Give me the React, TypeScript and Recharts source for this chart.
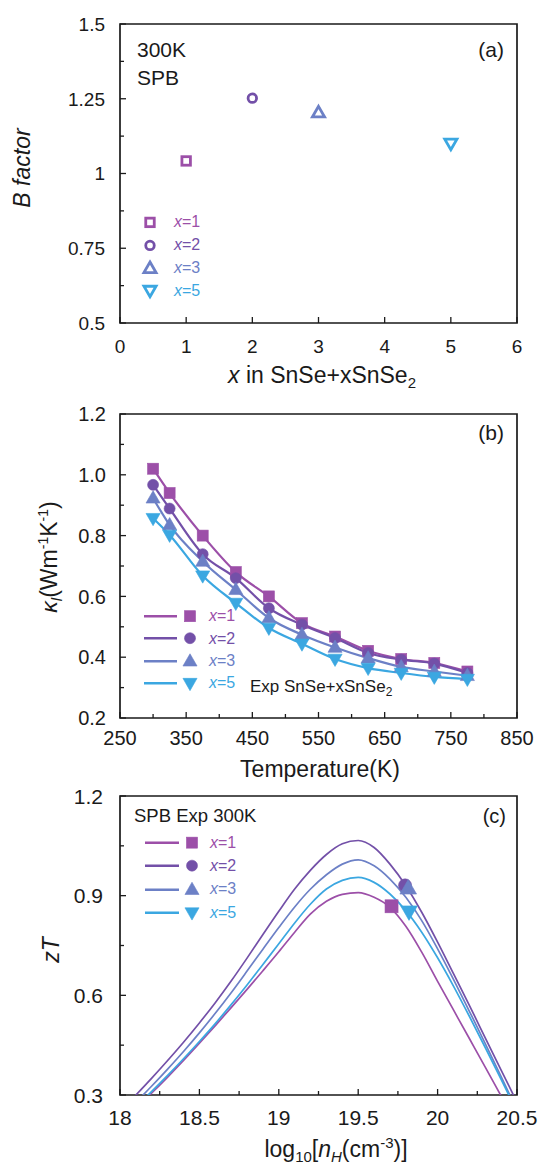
import React from 'react'
import {
  ScatterChart, ComposedChart, Scatter, Line, XAxis, YAxis, ReferenceArea, Label, Legend,
} from 'recharts'

const FONT = '"Liberation Sans", Arial, sans-serif'
const INK = '#1a1a1a'
const W = 544

const SERIES = ['x=1', 'x=2', 'x=3', 'x=5']
const COLORS = ['#9C4FA8', '#7350A8', '#6C80C6', '#3BA7E1']
const SHAPES = ['square', 'circle', 'triangle', 'down']

// (a) B factor, 300 K
const bX = [1, 2, 3, 5]
const bFactor = [1.042, 1.252, 1.203, 1.101]
const aXTicks = [0, 1, 2, 3, 4, 5, 6]
const aYTicks = [0.5, 0.625, 0.75, 0.875, 1, 1.125, 1.25, 1.375, 1.5]
const aYLabels = [0.5, 0.75, 1, 1.25, 1.5]

// (b) lattice thermal conductivity vs T
const temps = [300, 325, 375, 425, 475, 525, 575, 625, 675, 725, 775]
const kappa1 = [1.02, 0.94, 0.8, 0.68, 0.6, 0.512, 0.468, 0.421, 0.394, 0.381, 0.353]
const kappa2 = [0.967, 0.889, 0.739, 0.66, 0.561, 0.507, 0.463, 0.414, 0.392, 0.379, 0.348]
const kappa3 = [0.923, 0.835, 0.715, 0.622, 0.529, 0.474, 0.432, 0.397, 0.368, 0.353, 0.339]
const kappa5 = [0.857, 0.802, 0.668, 0.578, 0.496, 0.444, 0.394, 0.364, 0.348, 0.335, 0.328]
const bXTicks = [250, 300, 350, 400, 450, 500, 550, 600, 650, 700, 750, 800, 850]
const bXLabels = [250, 350, 450, 550, 650, 750, 850]
const bYTicks = [0.2, 0.3, 0.4, 0.5, 0.6, 0.7, 0.8, 0.9, 1.0, 1.1, 1.2]
const bYLabels = [0.2, 0.4, 0.6, 0.8, 1.0, 1.2]

// (c) SPB zT vs log10 nH
const logN = [18.0, 18.1, 18.2, 18.3, 18.4, 18.5, 18.6, 18.7, 18.8, 18.9, 19.0, 19.1, 19.2,
  19.3, 19.4, 19.5, 19.6, 19.7, 19.8, 19.9, 20.0, 20.1, 20.2, 20.3, 20.4, 20.5]
const zt1 = [0.215, 0.26, 0.306, 0.354, 0.404, 0.456, 0.509, 0.563, 0.618, 0.674, 0.731, 0.79, 0.845,
  0.883, 0.904, 0.909, 0.895, 0.865, 0.808, 0.73, 0.642, 0.556, 0.47, 0.384, 0.297, 0.21]
const zt2 = [0.25, 0.3, 0.351, 0.404, 0.459, 0.517, 0.578, 0.643, 0.712, 0.783, 0.853, 0.92, 0.977,
  1.024, 1.056, 1.066, 1.045, 0.995, 0.93, 0.85, 0.76, 0.665, 0.57, 0.472, 0.375, 0.278]
const zt3 = [0.23, 0.278, 0.327, 0.378, 0.431, 0.487, 0.546, 0.608, 0.673, 0.739, 0.804, 0.866, 0.92,
  0.963, 0.995, 1.008, 0.99, 0.95, 0.895, 0.825, 0.74, 0.648, 0.552, 0.455, 0.355, 0.255]
const zt5 = [0.22, 0.265, 0.311, 0.359, 0.409, 0.461, 0.515, 0.572, 0.631, 0.693, 0.755, 0.818, 0.875,
  0.92, 0.946, 0.955, 0.94, 0.905, 0.855, 0.79, 0.713, 0.628, 0.537, 0.443, 0.347, 0.25]
const expLogN = [19.71, 19.795, 19.815, 19.82]
const expZT = [0.868, 0.931, 0.922, 0.852]
const cXTicks = [18, 18.25, 18.5, 18.75, 19, 19.25, 19.5, 19.75, 20, 20.25, 20.5]
const cXLabels = [18, 18.5, 19, 19.5, 20, 20.5]
const cYTicks = [0.3, 0.45, 0.6, 0.75, 0.9, 1.05, 1.2]
const cYLabels = [0.3, 0.6, 0.9, 1.2]

const bRows = temps.map((t, i) => ({ t, k1: kappa1[i], k2: kappa2[i], k3: kappa3[i], k5: kappa5[i] }))
const cRows = logN.map((v, i) => ({ v, z1: zt1[i], z2: zt2[i], z3: zt3[i], z5: zt5[i] }))
const KEYS_B = ['k1', 'k2', 'k3', 'k5']
const KEYS_C = ['z1', 'z2', 'z3', 'z5']

// plot boxes, chart-relative
const PA = { top: 24, bottom: 323, h: 390 }
const PB = { top: 29, bottom: 333, h: 405 }
const PC = { top: 26, bottom: 325, h: 398 }
const LEFT = 120, RIGHT = 517
const margins = (p: any) => ({ top: p.top, right: W - RIGHT, left: LEFT - 60, bottom: p.h - p.bottom - 30 })

// hollow marker sizes for panel (a)
const HOLLOW = [8.5, 8.5, 9.5, 9.5]

function Marker({ cx, cy, shape, color, size, hollow }: any) {
  if (cx == null || cy == null) return null
  const h = size / 2
  const paint = hollow
    ? { fill: 'none', stroke: color, strokeWidth: 2.8 }
    : { fill: color, stroke: color, strokeWidth: 0.6 }
  if (shape === 'square') return <rect x={cx - h} y={cy - h} width={size} height={size} {...paint} />
  if (shape === 'circle') return <circle cx={cx} cy={cy} r={h} {...paint} />
  const t = h * 1.35
  const s = shape === 'triangle' ? 1 : -1
  const pts = [[cx, cy - s * t], [cx + t * 0.95, cy + s * t * 0.65], [cx - t * 0.95, cy + s * t * 0.65]]
  return <polygon points={pts.map(p => p.join(',')).join(' ')} {...paint} />
}

function xTick(labels: number[], fontSize: number, dy: number, fmt = (v: number) => String(v)) {
  return (p: any) => {
    const v = p.payload.value
    const major = labels.includes(v)
    return (
      <g>
        <line x1={p.x} x2={p.x} y1={p.y} y2={p.y - (major ? 6 : 4)} stroke={INK} strokeWidth={1.3} />
        {major && (
          <text x={p.x} y={p.y + dy} textAnchor="middle" fontSize={fontSize} fontFamily={FONT} fill={INK}>{fmt(v)}</text>
        )}
      </g>
    )
  }
}

function yTick(labels: number[], fontSize: number, gap: number, fmt = (v: number) => String(v)) {
  return (p: any) => {
    const v = p.payload.value
    const major = labels.includes(v)
    return (
      <g>
        <line x1={p.x} x2={p.x + (major ? 6 : 4)} y1={p.y} y2={p.y} stroke={INK} strokeWidth={1.3} />
        {major && (
          <text x={p.x - gap} y={p.y} dy="0.36em" textAnchor="end" fontSize={fontSize} fontFamily={FONT} fill={INK}>{fmt(v)}</text>
        )}
      </g>
    )
  }
}

function KeyRows({ lineLen, hollow, sizes, rowH, gap }: any) {
  return (
    <div style={{ fontFamily: FONT, fontSize: 16, lineHeight: 1 }}>
      {SERIES.map((s, i) => (
        <div key={s} style={{ display: 'flex', alignItems: 'center', height: rowH }}>
          <svg width={lineLen + (lineLen ? 24 : 20)} height={rowH} style={{ display: 'block' }}>
            {lineLen > 0 && <line x1={0} x2={lineLen} y1={rowH / 2} y2={rowH / 2} stroke={COLORS[i]} strokeWidth={2.5} />}
            <Marker cx={lineLen ? lineLen + 13 : 10} cy={rowH / 2} shape={SHAPES[i]} color={COLORS[i]} size={sizes[i]} hollow={hollow} />
          </svg>
          <span style={{ color: COLORS[i], marginLeft: gap }}><i>x</i>{s.slice(1)}</span>
        </div>
      ))}
    </div>
  )
}

const txt = { fontFamily: FONT, fill: INK }

function AnnotA() {
  return (
    <g {...txt}>
      <text x={137} y={57} fontSize={21}>300K</text>
      <text x={137} y={85} fontSize={21}>SPB</text>
      <text x={504} y={57} fontSize={21} textAnchor="end">(a)</text>
      <text x={322} y={383} fontSize={23} textAnchor="middle">
        <tspan fontStyle="italic">x</tspan> in SnSe+xSnSe<tspan fontSize={15} dy={5}>2</tspan>
      </text>
      <text transform="translate(30,168) rotate(-90)" fontSize={23} textAnchor="middle" fontStyle="italic">B factor</text>
    </g>
  )
}

function AnnotB() {
  return (
    <g {...txt}>
      <text x={504} y={55} fontSize={21} textAnchor="end">(b)</text>
      <text x={250} y={307} fontSize={17}>Exp SnSe+xSnSe<tspan fontSize={12} dy={4}>2</tspan></text>
      <text x={320} y={392} fontSize={23} textAnchor="middle">Temperature(K)</text>
      <text transform="translate(57,172) rotate(-90)" fontSize={23} textAnchor="middle">
        <tspan fontStyle="italic">κ</tspan><tspan fontStyle="italic" fontSize={15} dy={5}>l</tspan><tspan dy={-5}>(Wm</tspan><tspan fontSize={14} dy={-9}>-1</tspan><tspan dy={9}>K</tspan><tspan fontSize={14} dy={-9}>-1</tspan><tspan dy={9}>)</tspan>
      </text>
    </g>
  )
}

function AnnotC() {
  return (
    <g {...txt}>
      <text x={134} y={52} fontSize={18.5}>SPB Exp 300K</text>
      <text x={506} y={53} fontSize={20} textAnchor="end">(c)</text>
      <text x={336} y={387} fontSize={23} textAnchor="middle">
        log<tspan fontSize={15} dy={5}>10</tspan><tspan dy={-5}>[</tspan><tspan fontStyle="italic">n</tspan><tspan fontStyle="italic" fontSize={15} dy={5}>H</tspan><tspan dy={-5}>(cm</tspan><tspan fontSize={15} dy={-9}>-3</tspan><tspan dy={9}>)]</tspan>
      </text>
      <text transform="translate(59,180) rotate(-90)" fontSize={23} textAnchor="middle" fontStyle="italic">zT</text>
    </g>
  )
}

const axisCommon = { tickLine: false, axisLine: false, tickSize: 0, tickMargin: 0, interval: 0 as const }

function PanelA() {
  return (
    <ScatterChart width={W} height={PA.h} margin={margins(PA)}>
      <XAxis type="number" dataKey="x" domain={[0, 6]} ticks={aXTicks} tick={xTick(aXTicks, 19, 30)} {...axisCommon} />
      <YAxis type="number" domain={[0.5, 1.5]} ticks={aYTicks} tick={yTick(aYLabels, 19, 15)} {...axisCommon} />
      {SERIES.map((s, i) => (
        <Scatter key={s} name={s} data={[{ x: bX[i], b: bFactor[i] }]} dataKey="b" isAnimationActive={false}
          shape={(p: any) => <Marker cx={p.cx} cy={p.cy} shape={SHAPES[i]} color={COLORS[i]} size={HOLLOW[i]} hollow />} />
      ))}
      <ReferenceArea x1={0} x2={6} y1={0.5} y2={1.5} fill="none" stroke={INK} strokeWidth={1.7} ifOverflow="visible">
        <Label content={() => <AnnotA />} />
      </ReferenceArea>
      <Legend layout="vertical" align="center" verticalAlign="middle"
        wrapperStyle={{ left: 140, top: 211, width: 'auto', height: 'auto' }}
        content={() => <KeyRows lineLen={0} hollow sizes={HOLLOW} rowH={22.8} gap={14} />} />
    </ScatterChart>
  )
}

function PanelB() {
  return (
    <ComposedChart width={W} height={PB.h} margin={margins(PB)} data={bRows}>
      <XAxis type="number" dataKey="t" domain={[250, 850]} ticks={bXTicks} tick={xTick(bXLabels, 20, 27)} {...axisCommon} />
      <YAxis type="number" domain={[0.2, 1.2]} ticks={bYTicks} tick={yTick(bYLabels, 20, 14, v => v.toFixed(1))} {...axisCommon} />
      {SERIES.map((s, i) => (
        <Line key={s} name={s} dataKey={KEYS_B[i]} type="monotone" stroke={COLORS[i]} strokeWidth={2.2} isAnimationActive={false}
          dot={(p: any) => <Marker key={p.index} cx={p.cx} cy={p.cy} shape={SHAPES[i]} color={COLORS[i]} size={11} />}
          activeDot={false} />
      ))}
      <ReferenceArea x1={250} x2={850} y1={0.2} y2={1.2} fill="none" stroke={INK} strokeWidth={1.7} ifOverflow="visible">
        <Label content={() => <AnnotB />} />
      </ReferenceArea>
      <Legend layout="vertical" align="center" verticalAlign="middle"
        wrapperStyle={{ left: 144, top: 220, width: 'auto', height: 'auto' }}
        content={() => <KeyRows lineLen={33} sizes={[11, 11, 11, 11]} rowH={22.4} gap={8} />} />
    </ComposedChart>
  )
}

function PanelC() {
  return (
    <ComposedChart width={W} height={PC.h} margin={margins(PC)} data={cRows}>
      <XAxis type="number" dataKey="v" domain={[18, 20.5]} ticks={cXTicks} allowDataOverflow tick={xTick(cXLabels, 21, 30)} {...axisCommon} />
      <YAxis type="number" domain={[0.3, 1.2]} ticks={cYTicks} allowDataOverflow tick={yTick(cYLabels, 21, 17, v => v.toFixed(1))} {...axisCommon} />
      {SERIES.map((s, i) => (
        <Line key={s} name={s} dataKey={KEYS_C[i]} type="monotone" stroke={COLORS[i]} strokeWidth={1.7}
          dot={false} activeDot={false} isAnimationActive={false} />
      ))}
      {SERIES.map((s, i) => (
        <Scatter key={'e' + s} data={[{ v: expLogN[i], zt: expZT[i] }]} dataKey="zt" isAnimationActive={false}
          shape={(p: any) => <Marker cx={p.cx} cy={p.cy} shape={SHAPES[i]} color={COLORS[i]} size={13} />} />
      ))}
      <ReferenceArea x1={18} x2={20.5} y1={0.3} y2={1.2} fill="none" stroke={INK} strokeWidth={1.7} ifOverflow="visible">
        <Label content={() => <AnnotC />} />
      </ReferenceArea>
      <Legend layout="vertical" align="center" verticalAlign="middle"
        wrapperStyle={{ left: 145, top: 61, width: 'auto', height: 'auto' }}
        content={() => <KeyRows lineLen={34} sizes={[11, 11, 11, 11]} rowH={23.3} gap={7} />} />
    </ComposedChart>
  )
}

export default function App() {
  return (
    <div style={{ position: 'absolute', left: 0, top: 0, width: W, height: 1168, background: '#fff' }}>
      <div style={{ position: 'absolute', left: 0, top: 0 }}><PanelA /></div>
      <div style={{ position: 'absolute', left: 0, top: 385 }}><PanelB /></div>
      <div style={{ position: 'absolute', left: 0, top: 770 }}><PanelC /></div>
    </div>
  )
}
